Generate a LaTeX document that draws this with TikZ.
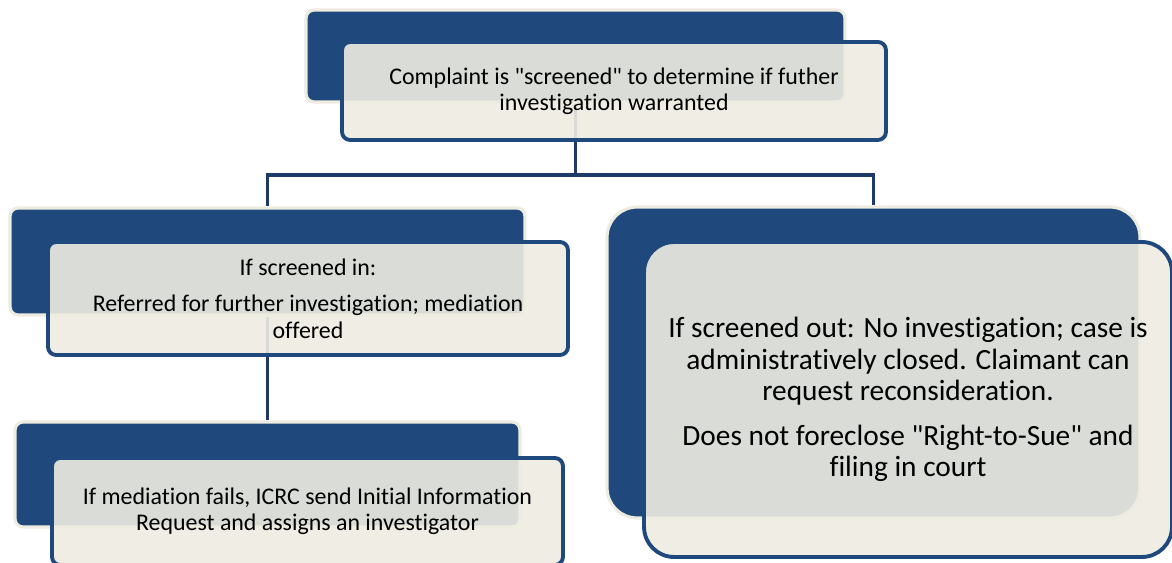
\documentclass[tikz,border=0pt]{standalone}
\usepackage{fontspec}
\setmainfont{Carlito}[Ligatures={TeX,NoCommon}]
\usetikzlibrary{positioning,backgrounds,calc}
\definecolor{boxblue}{RGB}{31,73,125}
\definecolor{linkblue}{RGB}{30,58,104}
\definecolor{boxbeige}{RGB}{238,236,225}
\newcommand{\qq}{\textquotedbl}

\begin{document}
\begin{tikzpicture}[x=0.02cm, y=-0.02cm,
  backbox/.style={draw=boxbeige, fill=boxblue, line width=1.8pt, rounded corners=0.16cm},
  frontbox/.style={draw=boxblue, fill=boxbeige, fill opacity=0.9, text opacity=1, line width=2.2pt,
    rounded corners=0.16cm, align=center, text=black, font=\fontsize{13.6}{15}\selectfont},
  link/.style={draw=linkblue, line width=2.2pt}]
\useasboundingbox (0,0) rectangle (1172,563);
% back panels
\node[backbox, minimum width=10.78cm, minimum height=1.84cm] (scrback) at (575.5,56) {};
\node[backbox, minimum width=10.3cm, minimum height=2.14cm] (inback) at (267.5,261.5) {};
\node[backbox, minimum width=10.1cm, minimum height=2.1cm] (medback) at (267.5,474.5) {};
\node[backbox, minimum width=10.66cm, minimum height=6.22cm, rounded corners=0.6cm] (outback) at (873.5,362.5) {};
% front panels
\node[frontbox, minimum width=10.88cm, minimum height=1.96cm] (scr) at (614,91)
  {Complaint is \qq screened\qq{} to determine if futher\\investigation warranted};
\node[frontbox, minimum width=10.4cm, minimum height=2.26cm] (in) at (308,298.5)
  {If screened in:\\[0.2cm]Referred for further investigation; mediation\\offered};
\node[frontbox, minimum width=10.22cm, minimum height=2.14cm] (med) at (307.5,511.5)
  {If mediation fails, ICRC send Initial Information\\Request and assigns an investigator};
\node[frontbox, minimum width=10.56cm, minimum height=6.3cm, rounded corners=0.6cm,
  font=\fontsize{16.7}{17.9}\selectfont] (out) at (908,399.5)
  {If screened out: No investigation; case is\\administratively closed. Claimant can\\request reconsideration.\\[0.26cm]Does not foreclose \qq Right-to-Sue\qq{} and\\filing in court};
% connectors
\begin{scope}[on background layer]
\coordinate (fork) at (575.5,175);
\draw[link] (scrback.south) -- (fork) -| (inback.north);
\draw[link] (fork) -| (outback.north);
\draw[link] (inback.south) -- (medback.north);
\end{scope}
\end{tikzpicture}
\end{document}
